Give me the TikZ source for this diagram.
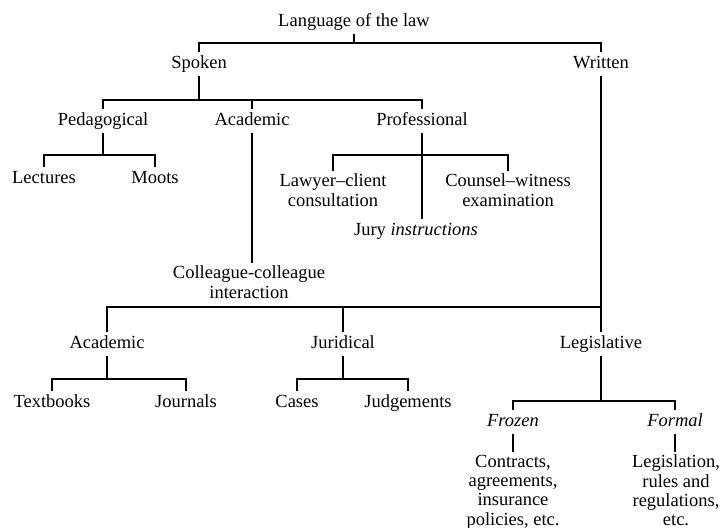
\documentclass[tikz,border=0pt]{standalone}
\usepackage{fontspec}
\setmainfont{Liberation Serif}
\begin{document}
\begin{tikzpicture}[x=1pt,y=-1pt,line width=1.8pt,
  lbl/.style={inner sep=0pt,outer sep=3.5pt,text height=12.5pt,text depth=4pt,anchor=base,font=\fontsize{18.5}{20}\selectfont},
  multi/.style={inner sep=0pt,outer sep=3.5pt,align=center,anchor=north,font=\fontsize{18.5}{20}\selectfont},
  tight/.style={font=\fontsize{18.5}{19.3}\selectfont}]
\useasboundingbox (0,0) rectangle (722,527);
% nodes
\node[lbl] (root) at (354,27) {Language of the law};
\node[lbl] (spoken) at (199,68) {Spoken};
\node[lbl] (written) at (601,68) {Written};
\node[lbl] (pedag) at (103,125) {Pedagogical};
\node[lbl] (acadA) at (252,125) {Academic};
\node[lbl] (prof) at (422,125) {Professional};
\node[lbl] (lect) at (44,183) {Lectures};
\node[lbl] (moots) at (155,183) {Moots};
\node[multi] (lawyer) at (333,170.5) {Lawyer–client\\consultation};
\node[multi] (counsel) at (508,170.5) {Counsel–witness\\examination};
\node[lbl] (jury) at (416,235) {Jury \textit{instructions}};
\node[multi] (coll) at (249,262.5) {Colleague-colleague\\interaction};
\node[lbl] (acadB) at (107,348) {Academic};
\node[lbl] (jurid) at (343,348) {Juridical};
\node[lbl] (legis) at (601,348) {Legislative};
\node[lbl] (textb) at (52,407) {Textbooks};
\node[lbl] (journ) at (186,407) {Journals};
\node[lbl] (cases) at (297,407) {Cases};
\node[lbl] (judg) at (408,407) {Judgements};
\node[lbl] (frozen) at (513,426) {\textit{Frozen}};
\node[lbl] (formal) at (675,426) {\textit{Formal}};
\node[multi,tight] (contr) at (513,451.5) {Contracts,\\agreements,\\insurance\\policies, etc.};
\node[multi,tight] (legisl) at (676,451.5) {Legislation,\\rules and\\regulations,\\etc.};
% junctions
\coordinate (j0) at (354,43);
\coordinate (j1) at (199,100);
\coordinate (j2) at (103,155);
\coordinate (j3) at (422,155);
\coordinate (j5) at (601,307);
\coordinate (j6) at (107,379);
\coordinate (j7) at (343,379);
\coordinate (j8) at (601,401);
% connectors
\draw (root.south) -- (j0);
\draw (spoken.north) |- (j0) -| (written.north);
\draw (spoken.south) -- (j1);
\draw (pedag.north) |- (j1) -| (prof.north);
\draw (acadA.north) -- (acadA.north |- j1);
\draw (acadA.south) -- (acadA.south |- coll.north);
\draw (pedag.south) -- (j2);
\draw (lect.north) |- (j2) -| (moots.north);
\draw (prof.south) -- (prof.south |- jury.north);
\draw (lawyer.north) |- (j3) -| (counsel.north);
\draw (written.south) -- (legis.north);
\draw (acadB.north) |- (j5);
\draw (jurid.north) -- (jurid.north |- j5);
\draw (acadB.south) -- (j6);
\draw (textb.north) |- (j6) -| (journ.north);
\draw (jurid.south) -- (j7);
\draw (cases.north) |- (j7) -| (judg.north);
\draw (legis.south) -- (j8);
\draw (frozen.north) |- (j8) -| (formal.north);
\draw (frozen.south) -- (contr.north);
\draw (formal.south) -- (formal.south |- legisl.north);
\end{tikzpicture}
\end{document}
